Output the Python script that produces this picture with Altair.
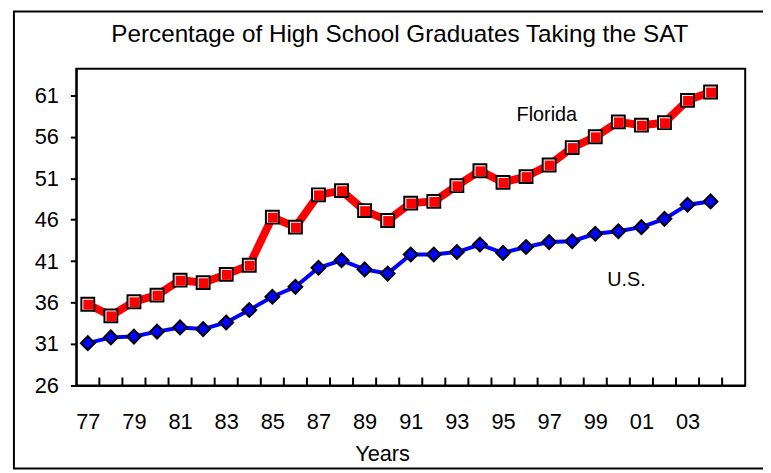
import altair as alt
import pandas as pd

# ---- data ----
years = list(range(1977, 2005))
florida = [35.8, 34.4, 36.1, 36.9, 38.7, 38.4, 39.4, 40.5,
           46.3, 45.1, 49.0, 49.5, 47.1, 45.9, 48.0, 48.2,
           50.1, 51.9, 50.5, 51.2, 52.6, 54.7, 56.0, 57.8,
           57.4, 57.7, 60.4, 61.4]
us = [31.1, 31.8, 31.9, 32.5, 33.0, 32.8, 33.6, 35.1,
      36.7, 37.9, 40.2, 41.1, 40.0, 39.5, 41.8, 41.8,
      42.1, 43.0, 42.0, 42.7, 43.3, 43.4, 44.3, 44.6,
      45.1, 46.1, 47.8, 48.2]
y_ticks = [26, 31, 36, 41, 46, 51, 56, 61]
x_label_years = years[::2]          # 77, 79, ..., 03
series_labels = ["Florida", "U.S."]
label_x = [1996.9, 2000.35]
label_y = [57.9, 37.95]

FONT = "Liberation Sans"
NARROW = "'Liberation Sans Narrow', 'Liberation Sans', sans-serif"

df_fl = pd.DataFrame({"year": years, "value": florida})
df_us = pd.DataFrame({"year": years, "value": us})
df_ticks = pd.DataFrame({"b": [y + 0.5 for y in years]})
df_lab = pd.DataFrame({"x": label_x, "y": label_y, "text": series_labels})

xscale = alt.Scale(domain=[1976.5, 2005.5], nice=False, zero=False)
yscale = alt.Scale(domain=[26, 64.2], nice=False, zero=False)

xaxis = alt.Axis(
    values=x_label_years, labelExpr="slice(toString(datum.value), 2)",
    ticks=False, grid=False, domainColor="black", domainWidth=2,
    labelFont=NARROW, labelFontSize=22, labelColor="black",
    labelPadding=26, labelFlush=False, labelOverlap=False,
    title="Years", titleFont=FONT, titleFontSize=22, titleFontWeight="normal",
    titleColor="black", titleX=309, titleY=76, titleAlign="center",
    titleBaseline="alphabetic", titleAnchor="start",
)
yaxis = alt.Axis(
    values=y_ticks, grid=False, domainColor="black", domainWidth=2,
    tickColor="black", tickWidth=2, tickSize=6,
    labelFont=FONT, labelFontSize=22, labelColor="black", labelPadding=12,
    title=None,
)

X = alt.X("year:Q", scale=xscale, axis=xaxis)
Y = alt.Y("value:Q", scale=yscale, axis=yaxis)

fl = alt.Chart(df_fl)
usc = alt.Chart(df_us)

fl_line = fl.mark_line(color="#FF0000", strokeWidth=8).encode(x=X, y=Y)
us_line = usc.mark_line(color="#0000FF", strokeWidth=4).encode(x=X, y=Y)

fl_sq_outer = fl.mark_point(shape="square", filled=True, fill="white", stroke="black",
                            strokeWidth=2, size=169, opacity=1).encode(x=X, y=Y)
fl_sq_inner = fl.mark_point(shape="square", filled=True, fill="#FF0000", strokeWidth=0,
                            size=100, opacity=1, xOffset=0.5, yOffset=0.5).encode(x=X, y=Y)
us_dia = usc.mark_point(shape="diamond", filled=True, fill="#0000FF", stroke="black",
                        strokeWidth=2, size=196, opacity=1).encode(x=X, y=Y)

x_ticks = alt.Chart(df_ticks).mark_rule(color="black", strokeWidth=2).encode(
    x=alt.X("b:Q", scale=xscale), y=alt.value(320), y2=alt.value(312))

labels = alt.Chart(df_lab).mark_text(font=FONT, fontSize=20, color="black",
                                     align="center", baseline="alphabetic").encode(
    x=alt.X("x:Q", scale=xscale), y=alt.Y("y:Q", scale=yscale), text="text:N")

frame = alt.Chart(alt.Data(values=[{}])).mark_rect(
    filled=False, color="black", strokeWidth=2).encode(
    x=alt.value(-63), x2=alt.value(800), y=alt.value(-58), y2=alt.value(404))

chart = alt.layer(
    frame, x_ticks, fl_line, us_line, fl_sq_outer, fl_sq_inner, us_dia, labels
).properties(
    width=676, height=320,
    title=alt.TitleParams(
        text="Percentage of High School Graduates Taking the SAT",
        font=FONT, fontSize=24.5, fontWeight="normal", color="black",
        anchor="middle", dx=-11, dy=56, offset=0, baseline="alphabetic"),
    autosize=alt.AutoSizeParams(type="none"),
    padding={"left": 69, "top": 59, "right": 18, "bottom": 86},
    background="white",
).configure_view(
    stroke="black", strokeWidth=2
)

chart.save("out.html", embed_options={"renderer": "svg", "actions": False})
